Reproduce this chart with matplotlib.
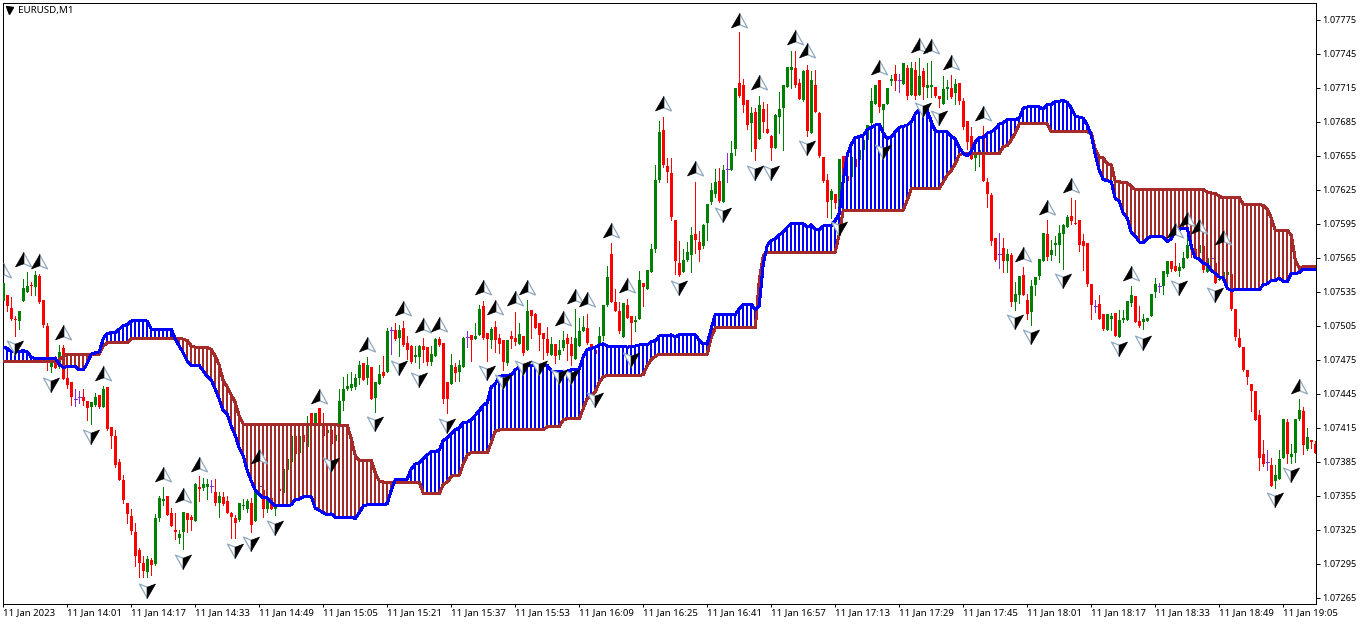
import numpy as np
import matplotlib
matplotlib.use("Agg")
import matplotlib.pyplot as plt
from matplotlib.path import Path

# all prices are in points above 1.07000
opens = [527,532,521,511,509,527,535,541,539,549,
	528,505,469,474,469,485,459,455,440,442,
	442,439,433,435,444,433,451,416,408,385,
	369,349,337,323,307,296,288,298,295,335,
	350,355,340,325,318,323,340,336,333,363,
	362,363,364,358,349,354,350,340,335,334,
	346,343,349,333,364,360,343,353,343,361,
	357,378,385,408,393,409,398,428,418,432,
	418,410,413,403,416,439,449,450,451,459,
	472,459,469,441,454,464,464,501,501,494,
	503,490,487,477,477,487,486,473,478,493,
	490,455,454,469,464,469,495,497,493,497,
	522,499,492,504,494,492,472,496,494,489,
	496,484,519,515,507,499,493,479,489,479,
	485,494,489,476,487,500,503,489,484,488,
	496,523,568,526,518,495,523,514,508,511,
	543,537,552,573,634,678,646,640,598,560,
	552,563,567,586,579,575,596,614,621,633,
	614,643,642,661,719,717,704,684,694,670,
	696,679,672,662,689,697,716,731,732,719,
	704,731,675,717,693,654,634,616,621,608,
	655,637,636,652,651,660,669,684,701,722,
	695,701,721,727,722,718,732,709,731,709,
	730,715,716,716,708,701,714,715,710,719,
	703,686,672,653,656,673,632,620,582,568,
	574,562,567,526,532,550,528,517,541,549,
	562,586,567,576,576,586,592,602,596,598,
	580,578,542,522,524,515,501,511,516,495,
	510,510,525,531,509,508,509,514,535,540,
	540,551,562,558,553,556,565,575,573,569,
	575,552,565,560,545,548,550,551,520,494,
	486,466,454,447,426,392,385,382,368,370,
	388,420,389,393,423,430,396,404,401]
closes = [543,522,511,510,518,538,540,540,550,526,
	506,472,472,468,482,458,453,442,440,442,
	439,432,438,442,433,449,414,408,382,369,
	351,339,324,302,296,289,299,294,335,353,
	352,338,328,323,321,341,334,334,365,361,
	365,365,364,349,355,348,340,336,331,349,
	347,350,329,359,364,343,353,343,347,359,
	379,387,408,392,408,402,417,418,428,418,
	408,413,401,409,439,449,452,454,459,470,
	457,470,440,455,462,461,500,501,493,501,
	488,484,473,479,487,484,473,480,493,488,
	440,440,470,463,470,494,495,492,496,520,
	494,493,502,492,489,473,492,493,491,498,
	481,518,514,503,497,493,481,489,478,484,
	492,489,478,494,500,504,490,485,480,496,
	523,548,526,518,500,525,512,507,510,545,
	539,554,573,634,676,647,641,601,562,550,
	563,570,585,581,572,594,612,625,632,615,
	642,643,657,715,708,700,682,693,661,700,
	685,675,662,691,696,717,733,733,717,705,
	730,677,722,694,655,633,614,624,613,652,
	636,633,654,645,660,669,682,703,717,698,
	701,715,723,721,722,737,708,732,708,725,
	716,717,717,708,705,714,716,707,718,703,
	680,667,652,657,660,633,621,580,563,568,
	562,568,526,533,549,532,515,540,548,564,
	587,566,572,578,587,594,601,597,595,576,
	575,542,523,522,511,502,515,514,496,510,
	512,527,532,508,505,511,512,533,542,540,
	553,562,555,553,557,565,576,572,565,576,
	554,565,565,543,546,552,552,520,495,486,
	466,460,447,422,388,383,385,364,373,387,
	423,392,392,423,431,400,407,402,393]
highs = [545,532,530,514,518,546,552,544,553,551,
	528,507,477,478,488,488,468,455,449,447,
	449,439,438,446,444,452,451,416,413,387,
	373,349,343,331,309,302,302,300,339,355,
	363,355,344,340,325,341,340,338,366,372,
	371,370,369,370,358,358,355,341,338,349,
	352,352,353,369,365,363,362,362,355,362,
	379,387,408,408,408,409,425,428,428,432,
	428,418,419,419,449,460,462,464,462,474,
	472,477,469,455,470,478,503,504,507,506,
	509,496,488,487,488,494,486,487,494,495,
	490,455,480,472,475,495,500,497,507,523,
	527,499,504,509,498,492,492,500,517,507,
	496,528,519,516,507,499,504,495,489,492,
	500,498,495,520,512,514,515,489,484,504,
	523,558,578,537,526,525,529,514,514,553,
	543,554,577,647,686,689,653,653,598,580,
	573,579,592,632,589,595,612,631,643,644,
	647,657,668,715,764,723,704,698,697,708,
	702,701,673,692,711,717,733,747,747,723,
	731,735,730,731,694,654,639,626,621,652,
	655,637,654,652,660,669,682,715,717,722,
	701,715,726,735,727,737,735,738,738,741,
	732,737,739,716,708,725,722,726,723,719,
	706,686,680,666,666,681,635,622,582,587,
	582,573,569,544,549,557,533,545,548,564,
	587,598,581,584,594,595,603,618,616,598,
	586,578,542,528,532,515,515,516,516,519,
	519,527,540,531,522,515,512,533,547,543,
	553,562,562,578,560,570,587,575,573,576,
	575,565,566,560,546,552,552,551,520,502,
	486,466,454,447,431,404,395,388,382,395,
	423,423,401,423,440,433,415,404,403]
lows = [525,518,510,496,502,527,535,532,532,525,
	504,466,464,468,468,458,450,435,434,437,
	435,422,418,434,432,433,413,397,380,369,
	349,331,321,293,283,283,283,285,294,333,
	347,338,328,317,313,308,323,325,333,350,
	360,352,358,347,336,347,340,318,318,333,
	343,341,323,333,363,336,341,343,338,359,
	357,378,385,391,393,402,398,418,418,418,
	408,410,400,402,412,431,448,448,449,454,
	457,454,440,429,454,460,464,480,492,478,
	487,476,472,473,468,473,470,470,478,487,
	437,428,454,456,456,469,486,474,493,497,
	493,474,485,482,481,466,470,485,488,489,
	479,484,494,503,484,476,479,479,472,476,
	484,475,470,476,487,500,489,481,472,488,
	492,522,526,518,499,495,512,488,500,511,
	522,537,552,570,632,645,632,598,551,549,
	552,562,552,569,562,574,581,612,619,614,
	614,632,642,656,707,694,679,659,651,670,
	676,675,651,662,675,660,716,715,716,705,
	703,672,675,694,654,632,601,600,609,592,
	636,633,636,645,651,660,669,680,701,694,
	670,701,717,713,711,718,705,709,705,709,
	705,707,707,707,698,701,705,706,701,701,
	679,661,652,642,646,633,610,576,562,556,
	552,552,522,519,525,532,511,506,532,546,
	562,563,563,567,561,555,592,595,595,571,
	554,540,511,517,511,501,501,501,496,495,
	508,510,522,508,504,502,509,514,530,535,
	533,549,553,553,549,556,565,566,565,569,
	552,552,564,543,545,548,550,519,492,486,
	465,454,430,422,378,381,378,364,362,370,
	388,384,384,385,422,392,395,397,393]

span_a = [486,485,482,482,482,483,482,477,476,476,
	476,476,476,476,471,468,469,469,469,466,
	466,472,480,481,482,494,498,499,499,502,
	505,506,509,510,510,510,509,502,502,502,
	502,502,502,493,487,481,474,470,470,470,
	465,460,457,449,440,430,427,416,408,397,
	390,377,368,360,356,353,353,349,346,346,
	346,346,347,352,352,354,354,354,344,342,
	340,338,339,336,336,336,336,336,335,340,
	346,347,347,347,347,347,348,360,369,369,
	369,370,379,383,384,388,391,394,394,395,
	404,406,410,413,415,420,420,422,426,430,
	435,437,451,454,460,461,461,462,466,469,
	469,470,470,470,470,470,470,465,465,465,
	465,465,466,466,467,478,484,485,486,488,
	489,487,487,487,487,487,486,487,487,488,
	488,488,491,492,496,496,496,497,495,497,
	497,497,497,497,492,489,489,503,515,515,
	515,515,515,515,520,524,524,524,519,523,
	560,576,580,582,585,588,592,595,595,595,
	595,592,594,590,590,593,593,593,598,604,
	634,656,665,671,672,673,678,680,682,683,
	675,670,672,676,680,681,682,685,692,696,
	696,695,685,677,676,676,676,672,670,662,
	657,655,659,667,671,671,675,676,679,683,
	684,687,687,687,688,697,698,698,698,698,
	696,700,700,703,703,704,702,697,690,689,
	688,682,673,656,642,634,633,632,617,615,
	604,600,587,584,579,578,582,584,584,584,
	583,579,582,588,590,591,591,575,565,564,
	560,559,554,551,548,547,538,536,537,537,
	537,537,537,537,537,541,542,545,545,547,
	544,544,551,551,552,555,555,555,555]
span_b = [473,473,473,473,473,473,473,473,473,473,
	473,473,473,473,475,478,480,480,480,480,
	480,480,480,480,480,487,490,490,490,490,
	490,490,494,494,494,494,494,494,494,494,
	494,494,494,494,494,493,492,487,486,486,
	486,486,484,478,470,456,451,444,437,425,
	418,418,418,418,418,418,418,418,418,418,
	418,418,418,418,418,418,418,418,418,418,
	418,418,418,418,417,417,417,405,390,386,
	386,386,386,375,368,367,367,367,367,367,
	367,367,367,367,367,357,357,357,357,357,
	365,367,372,373,373,383,391,393,393,393,
	393,393,402,412,413,413,413,413,413,413,
	413,413,413,413,413,413,416,416,416,416,
	422,423,423,423,423,432,441,443,447,455,
	460,461,461,461,461,461,461,461,461,461,
	462,470,475,478,480,480,480,480,480,480,
	480,480,480,480,480,480,480,495,503,503,
	503,503,503,503,503,503,503,503,503,545,
	567,570,570,570,570,570,570,570,570,570,
	570,570,570,570,570,570,570,570,570,586,
	607,607,607,607,607,607,607,607,607,607,
	607,607,607,607,607,607,616,626,626,626,
	626,626,626,626,626,632,638,642,648,656,
	657,657,657,657,657,657,657,657,657,657,
	663,664,669,675,683,683,683,683,683,683,
	683,683,676,676,676,676,676,676,676,676,
	676,676,675,660,654,653,648,647,632,632,
	631,631,628,625,625,625,625,625,625,625,
	625,625,625,625,625,625,625,625,625,625,
	625,623,622,622,619,618,618,618,618,618,
	612,612,612,612,612,611,608,600,589,589,
	589,589,585,563,556,557,557,557,557]

up_bars = [0,5,9,15,25,40,45,49,64,79,91,100,105,109,120,123,128,131,140,143,146,152,156,
	165,173,184,189,198,201,219,229,232,237,245,255,261,267,282,293,296,299,305,324]
up_prices = [553,563,561,499,462,373,355,382,389,442,488,520,505,506,538,521,529,538,511,530,528,589,540,
	701,643,774,719,759,747,732,752,751,737,692,567,609,628,551,589,598,592,582,451]
down_bars = [3,12,22,36,45,58,62,68,82,93,99,104,111,121,125,130,134,139,142,148,157,
	169,180,188,192,201,209,220,230,234,253,257,265,279,285,294,303,318,322]
down_prices = [486,454,408,272,297,307,313,327,383,419,469,458,417,464,456,469,469,461,461,440,476,
	539,604,641,641,663,591,659,696,689,509,496,545,485,491,539,533,352,374]

price_ticks = [265,295,325,355,385,415,445,475,505,535,565,595,625,655,685,715,745,775]
time_labels = ["11 Jan 2023","11 Jan 14:01","11 Jan 14:17","11 Jan 14:33","11 Jan 14:49","11 Jan 15:05",
	"11 Jan 15:21","11 Jan 15:37","11 Jan 15:53","11 Jan 16:09","11 Jan 16:25","11 Jan 16:41","11 Jan 16:57",
	"11 Jan 17:13","11 Jan 17:29","11 Jan 17:45","11 Jan 18:01","11 Jan 18:17","11 Jan 18:33","11 Jan 18:49","11 Jan 19:05"]

RED = "#ff0000"
GREEN = "#008000"
PURPLE = "#8a2be2"
BLUE = "#0000ff"
BROWN = "#a52a2a"
W, H = 1362, 624
px = 72/100  # one pixel in points

opens = np.array(opens)
closes = np.array(closes)
highs = np.array(highs)
lows = np.array(lows)
span_a = np.array(span_a)
span_b = np.array(span_b)
bars = np.arange(len(opens))

plt.rcParams['font.family'] = ['Noto Sans', 'DejaVu Sans']
fig = plt.figure(figsize=(W/100, H/100), dpi=100, facecolor="white")
ax = fig.add_axes([2.5/W, 1-603.5/H, (1316.5-2.5)/W, (603.5-2.5)/H])

# candles
colors = np.where(closes > opens, GREEN, RED)
colors[closes == opens] = PURPLE
ax.vlines(bars, lows, highs, colors=colors, lw=px, antialiased=False, zorder=2)
up = closes > opens
down = closes < opens
flat = closes == opens
ax.bar(bars[up], (closes-opens)[up], bottom=opens[up], width=0.75, color=GREEN, antialiased=False, zorder=3)
ax.bar(bars[down], (opens-closes)[down], bottom=closes[down], width=0.75, color=RED, antialiased=False, zorder=3)
ax.hlines(opens[flat], bars[flat]-0.4, bars[flat]+0.4, colors=PURPLE, lw=px, antialiased=False, zorder=3)

# ichimoku cloud
hatch = np.where(span_a >= span_b, BLUE, BROWN)
ax.vlines(bars, span_a, span_b, colors=hatch, lw=2*px, antialiased=False, zorder=4)
ax.plot(bars, span_b, color=BROWN, lw=2*px, zorder=5, antialiased=False)
ax.plot(bars, span_a, color=BLUE, lw=2*px, zorder=6, antialiased=False)

# fractal arrows
left_wing = Path([(0.05,1),(-1,-0.8),(0.05,-0.4),(0.05,1)], closed=True)
right_wing = Path([(0,1),(1,-0.8),(0,-0.4),(0,1)], closed=True)
left_down = Path([(0,-1),(-1,0.8),(0,0.4),(0,-1)], closed=True)
right_down = Path([(-0.05,-1),(1,0.8),(-0.05,0.4),(-0.05,-1)], closed=True)
ms = 16*px
ax.plot(up_bars, up_prices, ls="none", marker=right_wing, ms=ms, mfc="white", mec="#8fa8c0", mew=0.9, zorder=7)
ax.plot(up_bars, up_prices, ls="none", marker=left_wing, ms=ms, mfc="black", mec="black", mew=0.5, zorder=8)
ax.plot(down_bars, down_prices, ls="none", marker=left_down, ms=ms, mfc="white", mec="#8fa8c0", mew=0.9, zorder=7)
ax.plot(down_bars, down_prices, ls="none", marker=right_down, ms=ms, mfc="black", mec="black", mew=0.5, zorder=8)

ax.set_xlim((2.5-3.3)/4, (1316.5-3.3)/4)
ax.set_ylim(265-(603.5-597.7)*0.8824, 265+(597.7-2.5)*0.8824)

ax.yaxis.tick_right()
ax.set_yticks(price_ticks, ["1.07%d" % p for p in price_ticks])
ax.set_xticks(np.arange(len(time_labels))*16, time_labels, ha="left")
ax.tick_params(axis="y", length=4*px, width=px, pad=1.2, labelsize=6.6, colors="black")
ax.tick_params(axis="x", length=3*px, width=px, pad=1.5, labelsize=6.9, colors="black")
for s in ax.spines.values():
	s.set_linewidth(px)

# symbol caption
fig.text(18/W, 1-10/H, "EURUSD,M1", fontsize=7, va="center", ha="left", color="black")
ax.plot([0.0046], [0.9875], transform=ax.transAxes, marker="v", ms=7*px, color="black", zorder=9, clip_on=False)

fig.savefig("out.png", dpi=100, facecolor="white")
